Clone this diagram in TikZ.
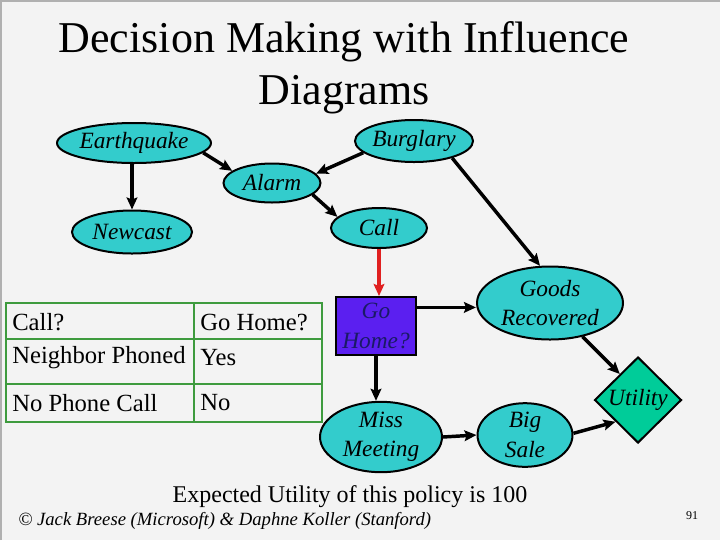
\documentclass[tikz,border=0pt]{standalone}
\usepackage{fontspec}
\setmainfont{Liberation Serif}
\usetikzlibrary{shapes.geometric,arrows.meta,calc}
\definecolor{bg}{HTML}{F3F3F3}
\definecolor{frame}{HTML}{B0B0B0}
\definecolor{teal}{HTML}{33CCCC}
\definecolor{utilc}{HTML}{00CC99}
\definecolor{decc}{HTML}{5B1FF0}
\definecolor{dectext}{HTML}{1A1A66}
\definecolor{tabgreen}{HTML}{3E9B3E}
\definecolor{redarr}{HTML}{E02020}
\tikzset{
  ell/.style 2 args={ellipse, draw=black, line width=1.5pt, fill=teal, inner sep=0pt,
    minimum width=#1*0.75pt, minimum height=#2*0.75pt, align=center,
    font=\fontsize{17.5}{22}\selectfont\itshape},
  decbox/.style 2 args={rectangle, draw=black, line width=1.5pt, fill=decc, inner sep=0pt,
    minimum width=#1*0.75pt, minimum height=#2*0.75pt, align=center, text=dectext,
    font=\fontsize{17.5}{22}\selectfont\itshape},
  utilbox/.style 2 args={diamond, draw=black, line width=1.5pt, fill=utilc, inner sep=0pt,
    minimum width=#1*0.75pt, minimum height=#2*0.75pt,
    font=\fontsize{17.5}{22}\selectfont\itshape},
  arr/.style={line width=2.6pt, -{Stealth[length=9pt,width=8pt,inset=1.5pt]}},
  tabtext/.style={anchor=west, inner sep=0pt, font=\fontsize{18.5}{22}\selectfont},
  tabline/.style={draw=tabgreen, line width=0.8pt}
}
\begin{document}
\begin{tikzpicture}[x=0.75pt,y=-0.75pt]
\fill[bg] (0,0) rectangle (720,540);
\useasboundingbox (0,0) rectangle (720,540);
\draw[frame, line width=1.2pt] (1,540) -- (1,1) -- (720,1);

% title
\node[align=center, font=\fontsize{33}{39}\selectfont] (title) at (344,68) {Decision Making with Influence\\Diagrams};

% nodes
\node[ell={140}{40}] (eq) at (134,143) {Earthquake};
\node[ell={118}{42}] (bur) at (414,141) {Burglary};
\node[ell={97}{39}] (alarm) at (272,183) {Alarm};
\node[ell={120}{43}] (news) at (132,232) {Newcast};
\node[ell={96}{40}] (call) at (379,228) {Call};
\node[decbox={80}{58}] (go) at (376,326) {Go\\Home?};
\node[ell={146}{73}] (goods) at (550,303) {Goods\\Recovered};
\node[ell={122}{70}] (miss) at (381,437) {Miss\\Meeting};
\node[ell={95}{60}] (big) at (525,435) {Big\\Sale};
\node[utilbox={87}{86}] (util) at (638,400) {Utility};

% connectors
\draw[arr] (eq.-8) -- (alarm.163);
\draw[arr] (bur.193) -- (alarm.12);
\draw[arr] (news.north |- eq.south) -- (news.north);
\draw[arr] (alarm.-16) -- (call.165);
\draw[arr] (bur.-24) -- (goods.105);
\draw[arr, redarr] (call.south) -- (call.south |- go.north);
\coordinate (goout) at ($(go.north east)!0.19!(go.south east)$);
\draw[arr] (goout) -- (goout -| goods.west);
\draw[arr] (go.south) -- (go.south |- miss.north);
\draw[arr] (miss.east) -- (big.west);
\draw[arr] (big.2) -- (util.224);
\draw[arr] (goods.-46) -- (util.125);

% table
\draw[tabline] (6,303) rectangle (322,422);
\draw[tabline] (6,339) -- (322,339);
\draw[tabline] (6,384) -- (322,384);
\draw[tabline] (194,303) -- (194,422);
\node[tabtext] (t11) at (12,322) {Call?};
\node[tabtext] (t12) at (200,322) {Go Home?};
\node[tabtext] (t21) at (12,358) {Neighbor Phoned};
\node[tabtext] (t22) at (200,358) {Yes};
\node[tabtext] (t31) at (12,403) {No Phone Call};
\node[tabtext] (t32) at (200,403) {No};

% footer
\node[font=\fontsize{18}{22}\selectfont] (eu) at (350,497) {Expected Utility of this policy is 100};
\node[anchor=west, inner sep=0pt, font=\fontsize{14}{16}\selectfont\itshape] (copy) at (18,521) {© Jack Breese (Microsoft) \& Daphne Koller (Stanford)};
\node[font=\fontsize{9}{11}\selectfont] (pg) at (692,516) {91};
\end{tikzpicture}
\end{document}
